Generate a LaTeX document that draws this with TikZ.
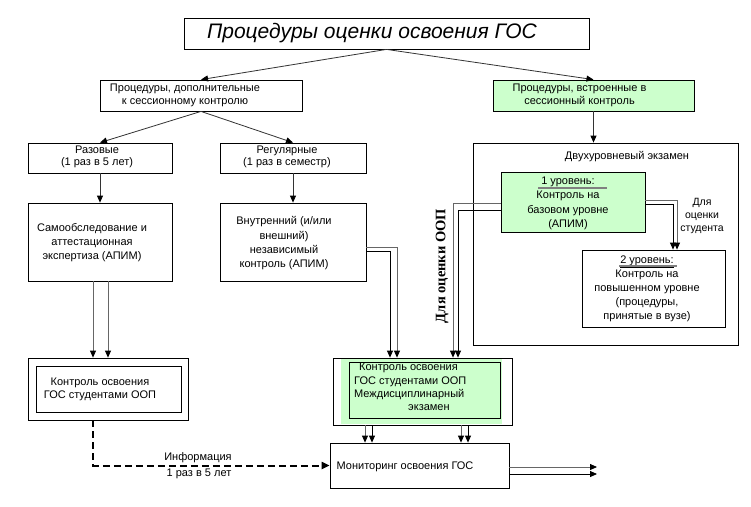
\documentclass[tikz,border=0pt]{standalone}
\usepackage{fontspec}
\setmainfont{Liberation Sans}
\newfontfamily\oopfont{Liberation Serif}
\usetikzlibrary{arrows.meta}
\definecolor{palegreen}{HTML}{CCFFCC}
\begin{document}
\begin{tikzpicture}[x=1pt,y=-1pt,
		box/.style={draw,line width=0.8pt,inner sep=0pt,fill=white},
		txt/.style={align=center,inner sep=0pt,font=\fontsize{11}{14}\selectfont},
		arr/.style={-{Triangle[length=7pt,width=6pt,color=black]},line width=0.8pt,draw=black!80},
		dbl/.style={arr,draw=gray!80!black},
		infoarr/.style={-{Triangle[length=8pt,width=7pt]},line width=2pt,dash pattern=on 7pt off 4pt}]
		\useasboundingbox (0,0) rectangle (751,506);
		\fill[white] (0,0) rectangle (751,506);
		% boxes
		\node[box,minimum width=405pt,minimum height=31pt] (title) at (386.5,33.5) {};
		\node[box,minimum width=202pt,minimum height=31pt] (dop) at (201,95.5) {};
		\node[box,fill=palegreen,minimum width=201pt,minimum height=31pt] (vstr) at (593.5,95.5) {};
		\node[box,minimum width=144pt,minimum height=30pt] (raz) at (100,158) {};
		\node[box,minimum width=146pt,minimum height=30pt] (reg) at (293,158) {};
		\node[box,minimum width=144pt,minimum height=78pt] (samo) at (100,242) {};
		\node[box,minimum width=146pt,minimum height=78pt] (vnutr) at (293,242) {};
		\node[box,minimum width=265pt,minimum height=202pt] (dvuh) at (605.5,244) {};
		\node[box,fill=palegreen,minimum width=144pt,minimum height=60pt] (lvl1) at (573,202) {};
		\node[box,minimum width=143pt,minimum height=77pt] (lvl2) at (653.5,288.5) {};
		\node[box,minimum width=160pt,minimum height=62pt] (kontr) at (108,389) {};
		\node[box,minimum width=145pt,minimum height=46pt] (kontri) at (108.5,389) {};
		\node[box,minimum width=179pt,minimum height=67pt] (mezh) at (422.5,391.5) {};
		\fill[palegreen] (341,359) rectangle (502,424);
		\node[box,fill=palegreen,minimum width=151pt,minimum height=56pt] (mezhi) at (424.5,390) {};
		\node[box,minimum width=179pt,minimum height=45pt] (monit) at (419.5,465.5) {};
		% texts
		\node[txt,font=\fontsize{21}{24}\itshape\selectfont] (titlet) at (372,33) {Процедуры оценки освоения ГОС};
		\node[txt,font=\fontsize{11}{13}\selectfont] (dopt) at (185,95.5) {Процедуры, дополнительные\\к сессионному контролю};
		\node[txt,font=\fontsize{11}{13}\selectfont] (vstrt) at (579.5,95.5) {Процедуры, встроенные в\\сессионный контроль};
		\node[txt,font=\fontsize{11}{12.5}\selectfont] (razt) at (97,157) {Разовые\\(1 раз в 5 лет)};
		\node[txt,font=\fontsize{11}{12.5}\selectfont] (regt) at (287,157) {Регулярные\\(1 раз в семестр)};
		\node[txt] (samot) at (92,242.5) {Самообследование и\\аттестационная\\экспертиза (АПИМ)};
		\node[txt,font=\fontsize{11}{14.3}\selectfont] (vnutrt) at (284,243.5) {Внутренний (и/или\\внешний)\\независимый\\контроль (АПИМ)};
		\node[txt] (dvuht) at (627,157) {Двухуровневый экзамен};
		\node[txt,font=\fontsize{11}{14.3}\selectfont] (lvl1t) at (568,203.5) {\underline{1 уровень:}\\Контроль на\\базовом уровне\\(АПИМ)};
		\node[txt] (lvl2t) at (647,288.5) {\underline{2 уровень:}\\Контроль на\\повышенном уровне\\(процедуры,\\принятые в вузе)};
		\draw[gray,line width=1.2pt] (538,188) -- (607,188);
		\draw[gray,line width=1.2pt] (619,266) -- (677,266);
		\node[txt,font=\fontsize{10.5}{13}\selectfont] (studt) at (702,216) {Для\\оценки\\студента};
		\node[txt,font=\fontsize{14.5}{16}\oopfont\bfseries\selectfont,rotate=90] (oopt) at (442,266) {Для оценки ООП};
		\node[txt,font=\fontsize{11}{13}\selectfont] (kontrt) at (100,389.5) {Контроль освоения\\ГОС студентами ООП};
		\node[txt,font=\fontsize{11}{13.3}\selectfont,align=left,anchor=west] (mezht) at (354,387) {\hspace*{5pt}Контроль освоения\\ГОС студентами ООП\\Междисциплинарный\\\hspace*{54pt}экзамен};
		\node[txt] (monitt) at (405,467) {Мониторинг освоения ГОС};
		\node[txt] (info) at (198,458) {Информация};
		\node[txt] (infob) at (199,474) {1 раз в 5 лет};
		% arrows
		\draw[arr] (title.south) -- (dop.north);
		\draw[arr] (title.south) -- (vstr.north);
		\draw[arr] (dop.south) -- (raz.north);
		\draw[arr] (dop.south) -- (reg.north);
		\draw[arr] (vstr.south) -- ([xshift=-12pt]dvuh.north);
		\draw[arr] (raz.south) -- (samo.north);
		\draw[arr] (reg.south) -- (vnutr.north);
		\draw[dbl] ([xshift=-7pt]samo.south) -- ([xshift=-15pt]kontr.north);
		\draw[dbl] ([xshift=8pt]samo.south) -- (kontr.north);
		\draw[dbl] ([yshift=-5pt]vnutr.east) -| ([xshift=-25.5pt]mezh.north);
		\draw[arr,draw=black] ([yshift=-9pt]vnutr.east) -| ([xshift=-32.5pt]mezh.north);
		\draw[dbl] ([yshift=-1pt]lvl1.west) -| ([xshift=30.5pt]mezh.north);
		\draw[arr,draw=black] ([yshift=-8pt]lvl1.west) -| ([xshift=35.5pt]mezh.north);
		\draw[dbl] ([yshift=2pt]lvl1.east) -| ([xshift=23.5pt]lvl2.north);
		\draw[arr,draw=black] ([yshift=-2pt]lvl1.east) -| ([xshift=19.5pt]lvl2.north);
		\draw[dbl] ([xshift=-57.5pt]mezh.south) -- ([xshift=-54.5pt]monit.north);
		\draw[arr,draw=black] ([xshift=-50.5pt]mezh.south) -- ([xshift=-47.5pt]monit.north);
		\draw[dbl] ([xshift=38.5pt]mezh.south) -- ([xshift=41.5pt]monit.north);
		\draw[arr,draw=black] ([xshift=45.5pt]mezh.south) -- ([xshift=48.5pt]monit.north);
		\coordinate (out1) at (597,467);
		\coordinate (out2) at (597,474);
		\draw[dbl] ([yshift=-1.5pt]monit.east) -- (out1);
		\draw[arr,draw=black] ([yshift=-8.5pt]monit.east) -- (out2);
		\draw[infoarr] ([xshift=-15pt]kontr.south) |- (monit.west);
	\end{tikzpicture}
\end{document}
